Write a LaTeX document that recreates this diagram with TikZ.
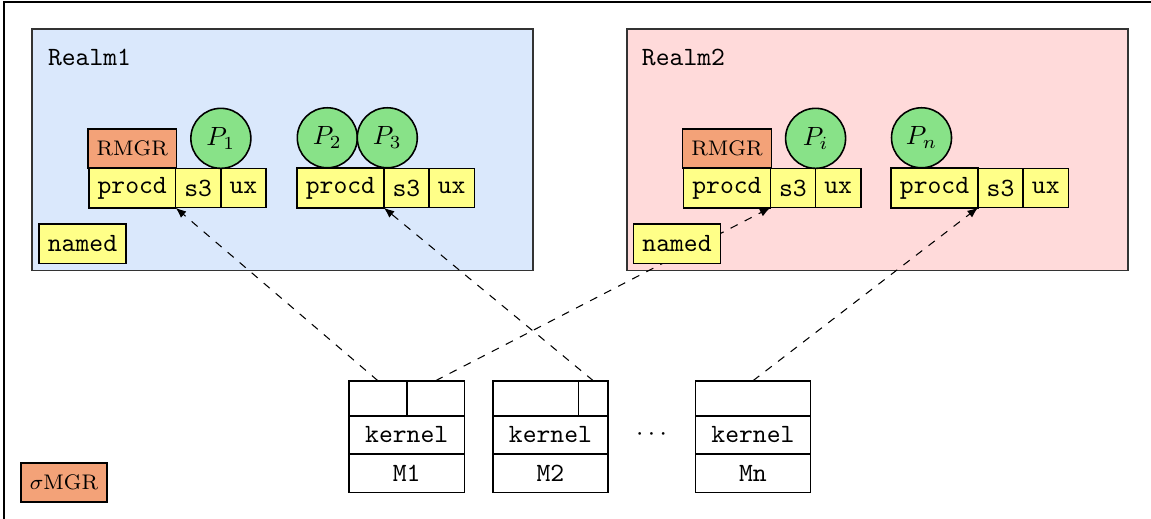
\documentclass[tikz,border=0pt]{standalone}
\usepackage{xcolor}
\usepackage{tikz}
\usetikzlibrary{arrows.meta, positioning}
\definecolor{realmblue}{RGB}{218, 232, 252}
\definecolor{realmred}{RGB}{255, 218, 218}
\definecolor{boxyellow}{RGB}{255, 255, 136}
\definecolor{procgreen}{RGB}{136, 226, 136}
\definecolor{mgrorange}{RGB}{243, 162, 120}

\begin{document}
\begin{tikzpicture}[
    realm/.style={draw=black!80, semithick},
    service/.style={draw, semithick, fill=boxyellow, font=\ttfamily,
                    minimum height=0.525cm, outer sep=0pt},
    manager/.style={draw, semithick, fill=mgrorange, font=\footnotesize,
                    minimum width=1.15cm, minimum height=0.52cm, outer sep=0pt},
    proc/.style={circle, draw, semithick, fill=procgreen, minimum size=0.8cm,
                 inner sep=0pt, outer sep=0pt},
    cell/.style={draw, semithick, minimum height=0.467cm, inner sep=0pt, outer sep=0pt},
    layer/.style={draw, semithick, font=\ttfamily, minimum width=1.537cm,
                  minimum height=0.513cm, inner sep=0pt, outer sep=0pt},
    link/.style={-{Latex[length=1.4mm, width=1.1mm]}, dashed}
]
    \useasboundingbox (0,0) rectangle (15.347,6.907);
    \draw (0.053,-1) rectangle (16,6.88);

    % realms
    \draw[realm, fill=realmblue] (0.427,3.30) rectangle (7.107,6.52);
    \draw[realm, fill=realmred] (8.36,3.30) rectangle (15.04,6.52);
    \node[anchor=base west, inner sep=0pt, font=\ttfamily] (realmA) at (0.633,6.03) {Realm1};
    \node[anchor=base west, inner sep=0pt, font=\ttfamily] (realmB) at (8.553,6.03) {Realm2};

    % Realm1
    \node[service] (procdA) at (1.763,4.40) {procd};
    \node[service, right=0pt of procdA] (sthreeA) {s3};
    \node[service, right=0pt of sthreeA] (uxA) {ux};
    \node[manager, above=0pt of procdA] (rmgrA) {RMGR};
    \node[proc, above=0pt of sthreeA.north east] (pone) {$P_1$};

    \node[service] (procdB) at (4.539,4.40) {procd};
    \node[service, right=0pt of procdB] (sthreeB) {s3};
    \node[service, right=0pt of sthreeB] (uxB) {ux};
    \node[proc] (ptwo) at (4.364,5.07) {$P_2$};
    \node[proc, right=0pt of ptwo] (pthree) {$P_3$};

    % Realm2
    \node[service] (procdC) at (9.693,4.40) {procd};
    \node[service, right=0pt of procdC] (sthreeC) {s3};
    \node[service, right=0pt of sthreeC] (uxC) {ux};
    \node[manager, above=0pt of procdC] (rmgrC) {RMGR};
    \node[proc, above=0pt of sthreeC.north east] (pi) {$P_i$};

    \node[service] (procdD) at (12.461,4.40) {procd};
    \node[service, right=0pt of procdD] (sthreeD) {s3};
    \node[service, right=0pt of sthreeD] (uxD) {ux};
    \node[proc] (pn) at (12.287,5.07) {$P_n$};

    % machines
    \node[layer] (kernelA) at (5.423,1.107) {kernel};
    \node[layer, below=0pt of kernelA] (mone) {M1};
    \node[cell, minimum width=0.7685cm, anchor=south west] (moneA) at (kernelA.north west) {};
    \node[cell, minimum width=0.7685cm, right=0pt of moneA] (moneB) {};

    \node[layer] (kernelB) at (7.34,1.107) {kernel};
    \node[layer, below=0pt of kernelB] (mtwo) {M2};
    \node[cell, minimum width=1.141cm, anchor=south west] (mtwoA) at (kernelB.north west) {};
    \node[cell, minimum width=0.396cm, right=0pt of mtwoA] (mtwoB) {};

    \node (dots) at (8.687,1.107) {$\cdots$};

    \node[layer] (kernelN) at (10.04,1.107) {kernel};
    \node[layer, below=0pt of kernelN] (mn) {Mn};
    \node[cell, minimum width=1.537cm, anchor=south] (mnA) at (kernelN.north) {};

    \node[manager] (smgr) at (0.853,0.473) {$\sigma$MGR};

    % links
    \draw[link] (moneA.north) -- (sthreeA.south west);
    \draw[link] (moneB.north) -- (sthreeC.south west);
    \draw[link] (mtwoB.north) -- (sthreeB.south west);
    \draw[link] (mnA.north) -- (sthreeD.south west);

    \node[service] (namedA) at (1.1,3.657) {named};
    \node[service] (namedB) at (9.027,3.657) {named};
\end{tikzpicture}
\end{document}
